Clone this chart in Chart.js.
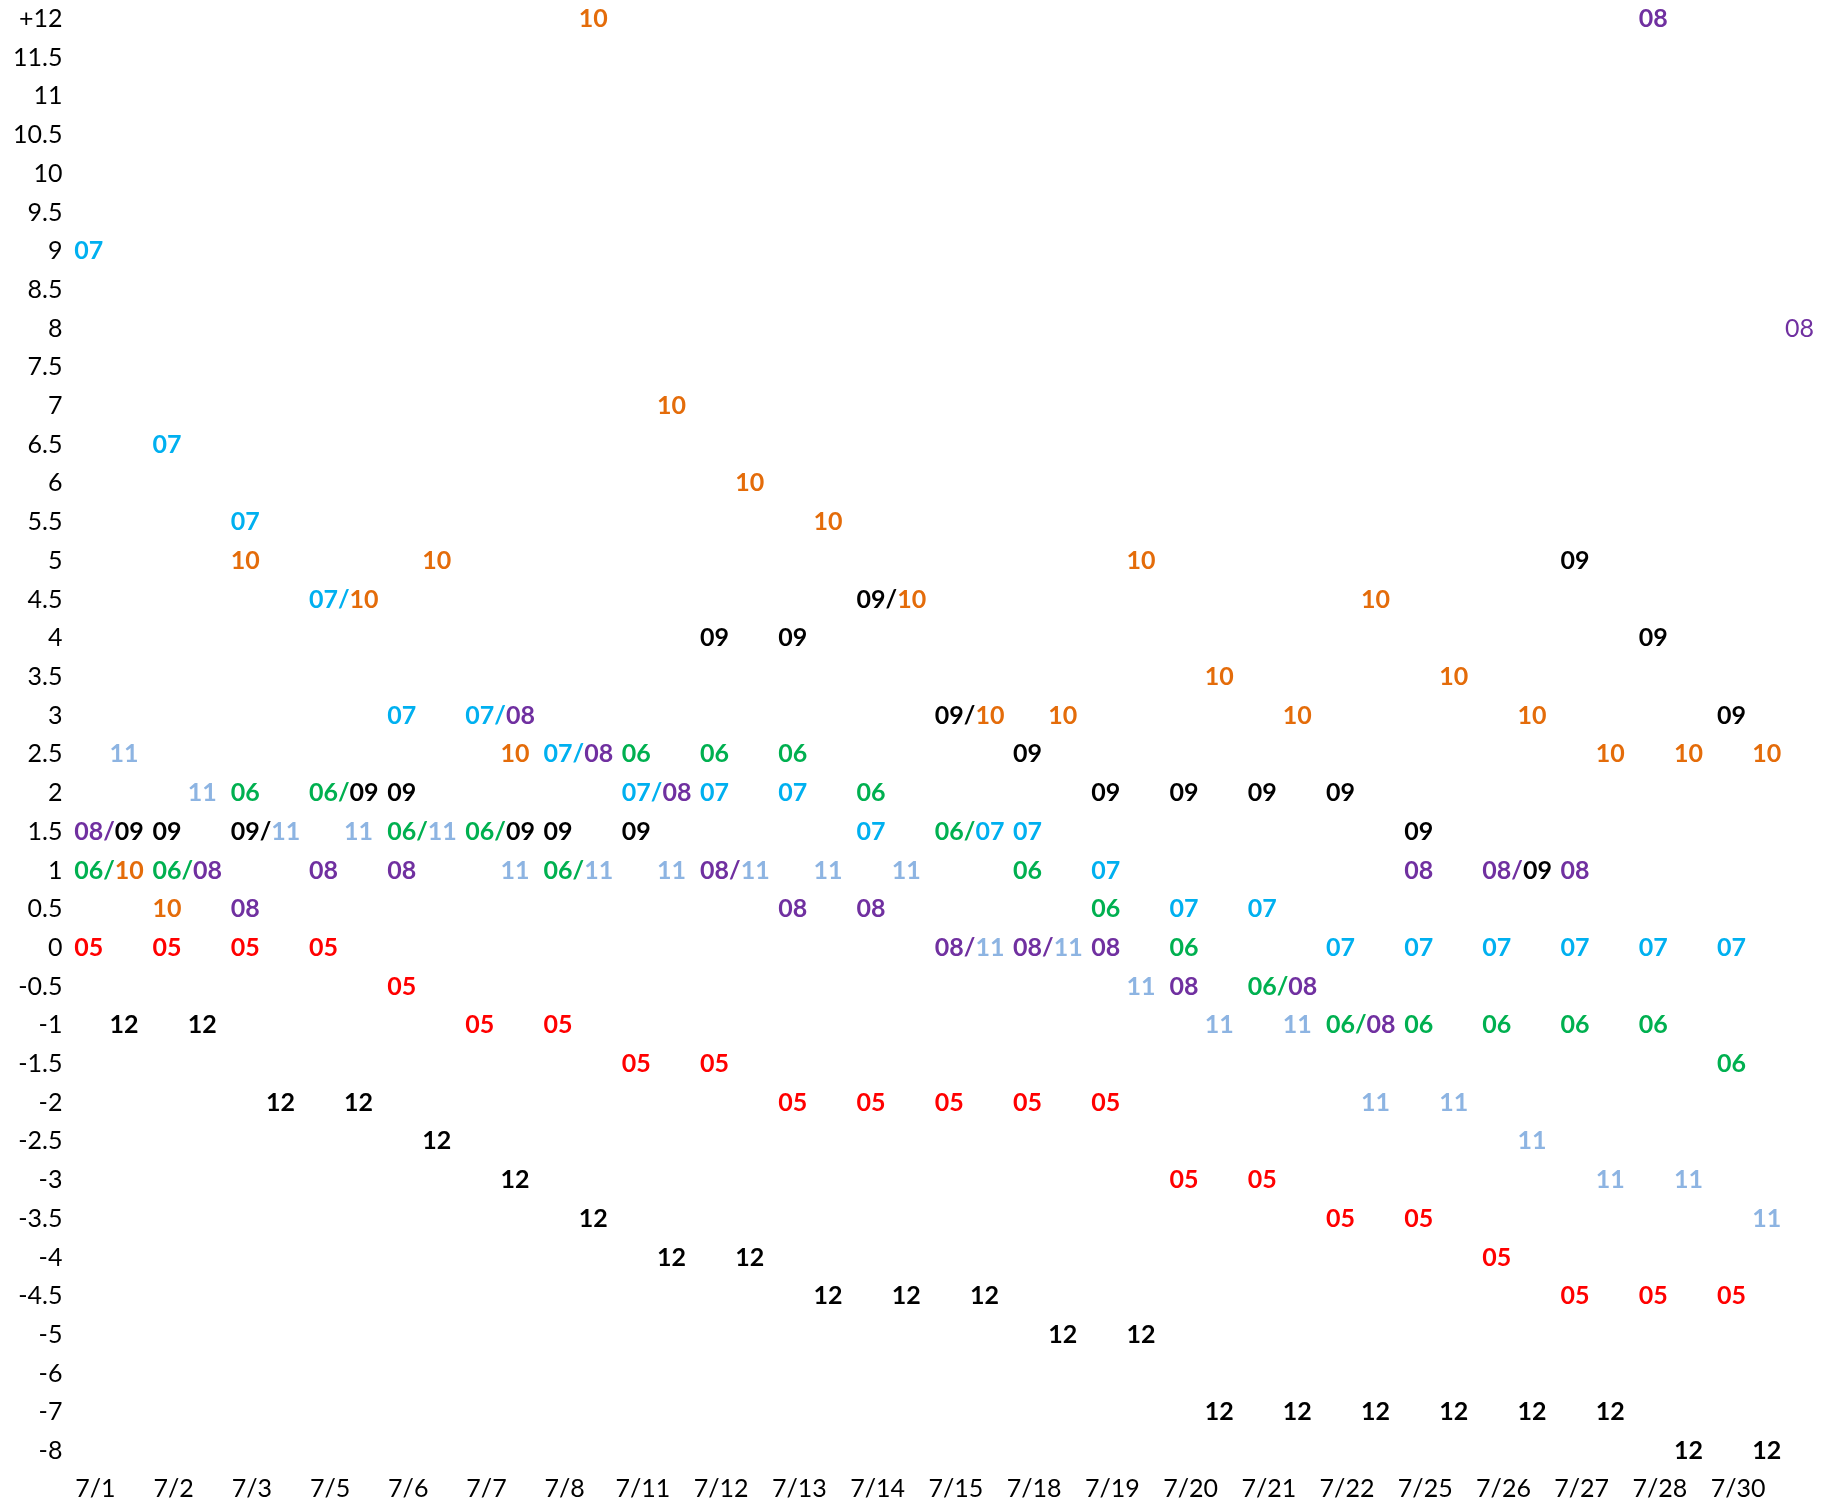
<!DOCTYPE html>
<html>
<head>
<meta charset="utf-8">
<script src="https://cdn.jsdelivr.net/npm/chart.js@4/dist/chart.umd.min.js"></script>
<style>
  html, body { margin: 0; padding: 0; background: #fff; }
  #wrap { width: 1825px; height: 1504px; position: relative; }
</style>
</head>
<body>
<div id="wrap"><canvas id="chart"></canvas></div>
<script>
// Trading days on the x axis
const dates = ['7/1', '7/2', '7/3', '7/5', '7/6', '7/7', '7/8', '7/11', '7/12', '7/13', '7/14',
  '7/15', '7/18', '7/19', '7/20', '7/21', '7/22', '7/25', '7/26', '7/27', '7/28', '7/30'];

// Rows of the y axis, top to bottom (steps of 0.5, then 1 below -5)
const yLabels = ['+12', '11.5', '11', '10.5', '10', '9.5', '9', '8.5', '8', '7.5', '7', '6.5',
  '6', '5.5', '5', '4.5', '4', '3.5', '3', '2.5', '2', '1.5', '1', '0.5', '0', '-0.5', '-1',
  '-1.5', '-2', '-2.5', '-3', '-3.5', '-4', '-4.5', '-5', '-6', '-7', '-8'];

const seriesNames = ['05', '06', '07', '08', '09', '10', '11', '12'];
const seriesColors = ['#FF0000', '#00B050', '#00B0F0', '#7030A0', '#000000', '#E46C0A', '#8DB4E2', '#000000'];

const s05 = [0, 0, 0, 0, -0.5, -1, -1, -1.5, -1.5, -2, -2, -2, -2, -2, -3, -3, -3.5, -3.5, -4, -4.5, -4.5, -4.5];
const s06 = [1, 1, 2, 2, 1.5, 1.5, 1, 2.5, 2.5, 2.5, 2, 1.5, 1, 0.5, 0, -0.5, -1, -1, -1, -1, -1, -1.5];
const s07 = [9, 6.5, 5.5, 4.5, 3, 3, 2.5, 2, 2, 2, 1.5, 1.5, 1.5, 1, 0.5, 0.5, 0, 0, 0, 0, 0, 0];
const s08 = [1.5, 1, 0.5, 1, 1, 3, 2.5, 2, 1, 0.5, 0.5, 0, 0, 0, -0.5, -0.5, -1, 1, 1, 1, 12, 8];
const s09 = [1.5, 1.5, 1.5, 2, 2, 1.5, 1.5, 1.5, 4, 4, 4.5, 3, 2.5, 2, 2, 2, 2, 1.5, 1, 5, 4, 3];
const s10 = [1, 0.5, 5, 4.5, 5, 2.5, 12, 7, 6, 5.5, 4.5, 3, 3, 5, 3.5, 3, 4.5, 3.5, 3, 2.5, 2.5, 2.5];
const s11 = [2.5, 2, 1.5, 1.5, 1.5, 1, 1, 1, 1, 1, 1, 0, 0, -0.5, -1, -1, -2, -2, -2.5, -3, -3, -3.5];
const s12 = [-1, -1, -2, -2, -2.5, -3, -3.5, -4, -4, -4.5, -4.5, -4.5, -5, -5, -7, -7, -7, -7, -7, -7, -8, -8];
const seriesValues = [s05, s06, s07, s08, s09, s10, s11, s12];

// 10/11/12 sit in the second column of each day, except these two
const rightSeries = ['10', '11', '12'];
const leftExceptions = [['10', '7/2'], ['10', '7/3']];
// the stray plain-weight cell after the last day
const looseCell = ['08', '7/30'];

const FONT = 'Lato, "Open Sans", sans-serif';

function rowLabel(v) {
  return v === 12 ? '+12' : String(v);
}

function sharesValue(k, i) {
  const v = seriesValues[k][i];
  return seriesValues.some((vals, j) => j !== k && vals[i] === v);
}

function isLoose(k, i) {
  return seriesNames[k] === looseCell[0] && dates[i] === looseCell[1];
}

function columnOffset(k, i) {
  if (sharesValue(k, i)) return 0;
  if (isLoose(k, i)) return 0.87;
  const name = seriesNames[k];
  if (!rightSeries.includes(name)) return 0;
  if (leftExceptions.some(e => e[0] === name && e[1] === dates[i])) return 0;
  return 0.45;
}

const datasets = seriesNames.map((name, k) => ({
  label: name,
  data: seriesValues[k].map((v, i) => ({ x: i + columnOffset(k, i), y: rowLabel(v) })),
  pointRadius: 0,
  pointHoverRadius: 0,
  borderColor: seriesColors[k],
  backgroundColor: seriesColors[k]
}));

// Draws the cell texts, merging series that share a row on the same day ("06/10")
const cellLabels = {
  id: 'cellLabels',
  afterDatasetsDraw(chart) {
    const ctx = chart.ctx;
    ctx.save();
    ctx.textAlign = 'left';
    ctx.textBaseline = 'middle';
    dates.forEach((d, i) => {
      const groups = new Map();
      seriesNames.forEach((name, k) => {
        const v = seriesValues[k][i];
        if (!groups.has(v)) groups.set(v, []);
        groups.get(v).push(k);
      });
      groups.forEach(members => {
        const el = chart.getDatasetMeta(members[0]).data[i];
        let px = el.x;
        const py = el.y;
        ctx.font = (isLoose(members[0], i) ? '' : 'bold ') + '25px ' + FONT;
        members.forEach((k, m) => {
          const txt = seriesNames[k] + (m < members.length - 1 ? '/' : '');
          ctx.fillStyle = seriesColors[k];
          ctx.fillText(txt, px, py);
          px += ctx.measureText(txt).width;
        });
      });
    });
    ctx.restore();
  }
};

new Chart(document.getElementById('chart'), {
  type: 'scatter',
  data: { datasets },
  options: {
    responsive: true,
    maintainAspectRatio: false,
    animation: false,
    layout: { padding: { top: 18, left: 9, right: 0, bottom: 0 } },
    plugins: {
      legend: { display: false },
      tooltip: { enabled: false }
    },
    scales: {
      x: {
        type: 'linear',
        min: -0.1,
        max: 22.38,
        grid: { display: false, drawTicks: false },
        border: { display: false },
        afterBuildTicks: (scale) => {
          scale.ticks = dates.map((d, i) => ({ value: i + 0.27 }));
        },
        // labels hug the bottom edge, no padding below them
        afterFit: (scale) => {
          scale.height = 53;
        },
        ticks: {
          autoSkip: false,
          maxRotation: 0,
          padding: 23,
          color: '#000',
          font: { family: FONT, size: 25 },
          callback: (value, index) => dates[index]
        }
      },
      y: {
        type: 'category',
        labels: yLabels,
        offset: false,
        grid: { display: false, drawTicks: false },
        border: { display: false },
        ticks: {
          autoSkip: false,
          padding: 4,
          color: '#000',
          font: { family: FONT, size: 25 }
        }
      }
    }
  },
  plugins: [cellLabels]
});
</script>
</body>
</html>
